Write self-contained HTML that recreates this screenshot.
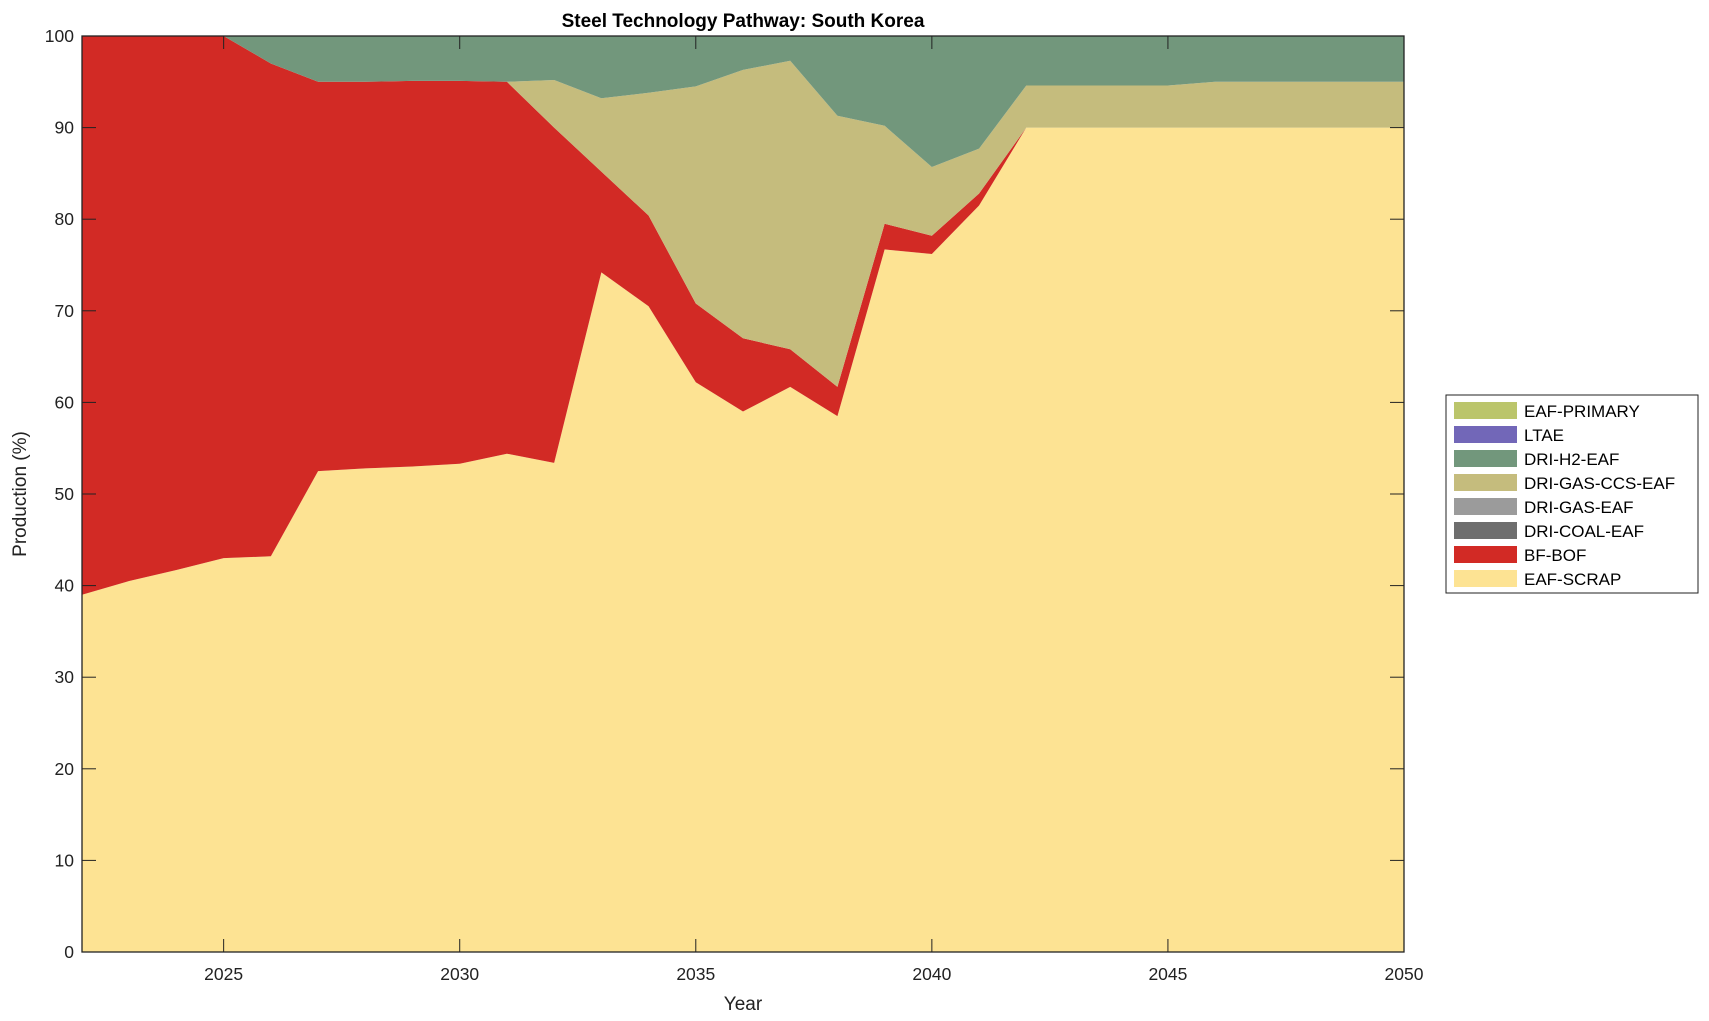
<!DOCTYPE html>
<html><head><meta charset="utf-8"><style>
html,body{margin:0;padding:0;background:#fff}
svg{display:block;font-family:"Liberation Sans",Arial,sans-serif}
</style></head><body>
<svg id="chart" width="1709" height="1021" viewBox="0 0 1709 1021">
<g id="areas"></g>
<g id="axes"></g>
<text x="743" y="27" text-anchor="middle" font-size="19" font-weight="bold" fill="#000">Steel Technology Pathway: South Korea</text>
<text x="743" y="1010" text-anchor="middle" font-size="19" fill="#222">Year</text>
<text transform="translate(26,494) rotate(-90)" text-anchor="middle" font-size="19" fill="#222">Production (%)</text>
<g id="legend"></g>
</svg>
<script>
const years = [2022,2023,2024,2025,2026,2027,2028,2029,2030,2031,2032,2033,2034,2035,2036,2037,2038,2039,2040,2041,2042,2043,2044,2045,2046,2047,2048,2049,2050];
const eafScrap = [39,40.5,41.7,43,43.2,52.5,52.8,53,53.3,54.4,53.4,74.2,70.5,62.2,59,61.7,58.5,76.7,76.2,81.5,90,90,90,90,90,90,90,90,90];
const bfBof = [61,59.5,58.3,57,53.8,42.5,42.2,42.1,41.8,40.6,36.6,11,9.9,8.6,8,4.1,3.2,2.8,2,1.3,0,0,0,0,0,0,0,0,0];
const driGasCcs = [0,0,0,0,0,0,0,0,0,0,5.2,8,13.4,23.7,29.3,31.5,29.6,10.7,7.5,4.9,4.6,4.6,4.6,4.6,5,5,5,5,5];
const driH2 = [0,0,0,0,3,5,5,4.9,4.9,5,4.8,6.8,6.2,5.5,3.7,2.7,8.7,9.8,14.3,12.3,5.4,5.4,5.4,5.4,5,5,5,5,5];
const zeros = years.map(()=>0);
const seriesNames = ["EAF-SCRAP","BF-BOF","DRI-COAL-EAF","DRI-GAS-EAF","DRI-GAS-CCS-EAF","DRI-H2-EAF","LTAE","EAF-PRIMARY"];
const seriesColors = ["#fde393","#d22a25","#6e6e6e","#9b9b9b","#c5bc7d","#72977c","#7267b8","#bbc56b"];
const seriesVals = [eafScrap,bfBof,zeros,zeros,driGasCcs,driH2,zeros,zeros];
const yTicks = [0,10,20,30,40,50,60,70,80,90,100];
const xTicks = [2025,2030,2035,2040,2045,2050];

const L=82,R=1404,T=36,B=952,X0=2022,X1=2050;
const xs=v=>L+(v-X0)/(X1-X0)*(R-L);
const ys=v=>B-v/100*(B-T);
const NS="http://www.w3.org/2000/svg";
const areas=document.getElementById('areas');
let base=years.map(()=>0);
seriesVals.forEach((vals,i)=>{
  const top=base.map((b,j)=>b+vals[j]);
  let d="M"+years.map((y,j)=>xs(y)+","+ys(top[j])).join(" L");
  for(let j=years.length-1;j>=0;j--) d+=" L"+xs(years[j])+","+ys(base[j]);
  d+="Z";
  const p=document.createElementNS(NS,'path');
  p.setAttribute('d',d);p.setAttribute('fill',seriesColors[i]);
  
  
  areas.appendChild(p);
  base=top;
});
const axes=document.getElementById('axes');
function el(tag,attrs,txt){const e=document.createElementNS(NS,tag);for(const k in attrs)e.setAttribute(k,attrs[k]);if(txt!=null)e.textContent=txt;return e;}
const box=el('rect',{x:L,y:T,width:R-L,height:B-T,fill:'none',stroke:'#222','stroke-width':1.3});


axes.appendChild(box);
yTicks.forEach(v=>{
  const y=ys(v);
  axes.appendChild(el('line',{x1:L,x2:L+14,y1:y,y2:y,stroke:'#222'}));
  axes.appendChild(el('line',{x1:R-14,x2:R,y1:y,y2:y,stroke:'#222'}));
  const t=el('text',{x:L-8,y:y+6,'text-anchor':'end','font-size':17.5,fill:'#222'},v);
  
  
  axes.appendChild(t);
});
xTicks.forEach(v=>{
  const x=xs(v);
  axes.appendChild(el('line',{x1:x,x2:x,y1:B,y2:B-13,stroke:'#222'}));
  axes.appendChild(el('line',{x1:x,x2:x,y1:T,y2:T+13,stroke:'#222'}));
  const t=el('text',{x:x,y:B+28,'text-anchor':'middle','font-size':17.5,fill:'#222'},v);
  
  
  axes.appendChild(t);
});
const lg=document.getElementById('legend');
const lb=el('rect',{x:1446,y:395,width:252,height:198,fill:'#fff',stroke:'#222','stroke-width':1});


lg.appendChild(lb);
for(let k=0;k<8;k++){
  const i=7-k;
  const y=402+k*24;
  const g=el('g',{});
  
  
  g.appendChild(el('rect',{x:1454,y:y,width:63,height:17,fill:seriesColors[i]}));
  g.appendChild(el('text',{x:1524,y:y+15,'font-size':17,fill:'#000'},seriesNames[i]));
  lg.appendChild(g);
}
</script>
</body></html>
